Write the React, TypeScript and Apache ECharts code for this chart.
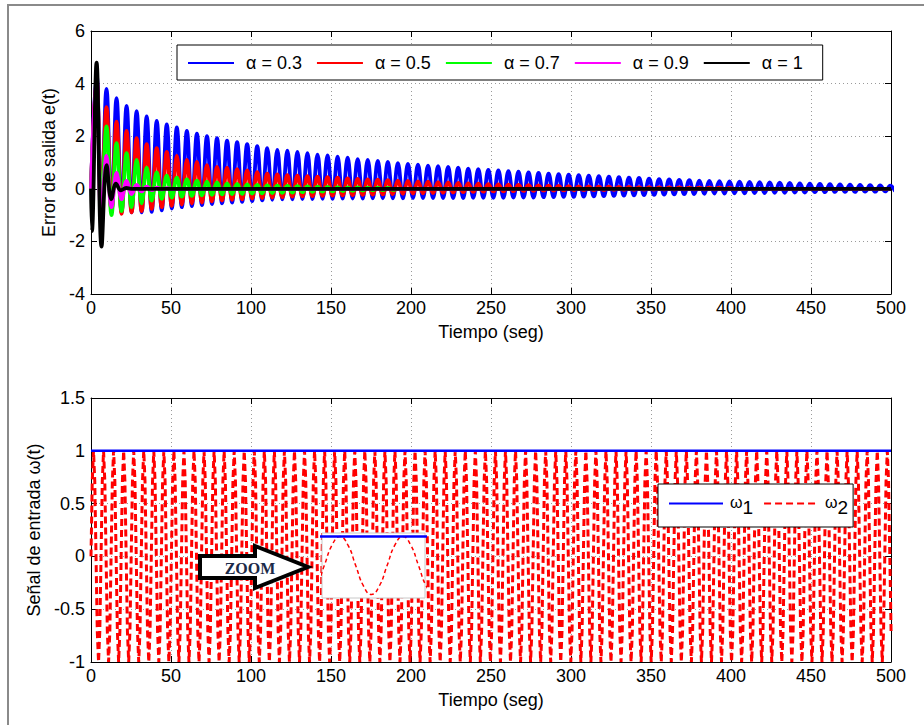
import React, { useEffect, useRef } from "react";
import * as echarts from "echarts";

const FONT = '"Liberation Sans", Arial, Helvetica, sans-serif';

// ---------- data ----------
const alphaNames = ["α = 0.3", "α = 0.5", "α = 0.7", "α = 0.9", "α = 1"];
const alphaColors = ["#0000ff", "#ff0000", "#00ff00", "#ff00ff", "#000000"];

// oscillation timing of e(t) (peaks repeat with the same period)
const PEAK_T0 = 3.4;
const PERIOD = 6.28;

// peak / trough values of each cycle
const bluePeaks = [
  4.4, 3.8, 3.45, 3.15, 2.95, 2.75, 2.58, 2.45, 2.33, 2.2,
  2.1, 2.0, 1.93, 1.83, 1.77, 1.7, 1.62, 1.55, 1.48, 1.45,
  1.4, 1.36, 1.3, 1.27, 1.22, 1.18, 1.13, 1.1, 1.06, 1.02,
  0.98, 0.95, 0.92, 0.88, 0.86, 0.83, 0.8, 0.77, 0.75, 0.72,
  0.7, 0.67, 0.65, 0.62, 0.6, 0.58, 0.56, 0.54, 0.52, 0.5,
  0.48, 0.46, 0.44, 0.42, 0.41, 0.39, 0.37, 0.36, 0.34, 0.33,
  0.31, 0.3, 0.29, 0.28, 0.27, 0.26, 0.25, 0.24, 0.23, 0.22,
  0.21, 0.2, 0.19, 0.18, 0.17, 0.16, 0.15, 0.14, 0.13, 0.12,
];
const blueTroughs = [
  -0.7, -0.85, -0.9, -0.9, -0.9, -0.88, -0.82, -0.75, -0.7, -0.66,
  -0.62, -0.58, -0.55, -0.52, -0.5, -0.47, -0.44, -0.42, -0.4, -0.4,
  -0.39, -0.39, -0.38, -0.38, -0.37, -0.37, -0.37, -0.36, -0.36, -0.36,
  -0.36, -0.35, -0.35, -0.35, -0.35, -0.35, -0.35, -0.34, -0.34, -0.34,
  -0.34, -0.33, -0.33, -0.33, -0.32, -0.32, -0.31, -0.31, -0.3, -0.29,
  -0.28, -0.27, -0.26, -0.25, -0.24, -0.23, -0.22, -0.21, -0.2, -0.2,
  -0.19, -0.18, -0.18, -0.17, -0.17, -0.16, -0.16, -0.15, -0.15, -0.14,
  -0.14, -0.13, -0.13, -0.12, -0.12, -0.12, -0.11, -0.11, -0.1, -0.1,
];
const redPeaks = [
  4.2, 3.1, 2.55, 2.2, 1.93, 1.7, 1.55, 1.4, 1.25, 1.1,
  1.02, 0.9, 0.83, 0.8, 0.75, 0.7, 0.63, 0.58, 0.55, 0.52,
  0.5, 0.48, 0.46, 0.44, 0.42, 0.4, 0.38, 0.36, 0.35, 0.33,
  0.31, 0.3, 0.28, 0.27, 0.25, 0.24, 0.22, 0.21, 0.2, 0.18,
  0.17, 0.16, 0.15, 0.14, 0.13, 0.12, 0.11, 0.1, 0.09, 0.09,
  0.08, 0.08, 0.07, 0.07, 0.06, 0.06, 0.05, 0.05, 0.05, 0.04,
  0.04, 0.04, 0.04, 0.03,
];
const redTroughs = [
  -0.5, -0.85, -0.95, -0.9, -0.85, -0.76, -0.7, -0.65, -0.6, -0.56,
  -0.52, -0.48, -0.45, -0.42, -0.4, -0.37, -0.35, -0.33, -0.32, -0.3,
  -0.29, -0.28, -0.27, -0.26, -0.25, -0.24, -0.23, -0.22, -0.21, -0.2,
  -0.19, -0.18, -0.17, -0.16, -0.15, -0.14, -0.13, -0.12, -0.11, -0.1,
  -0.1, -0.09, -0.08, -0.08, -0.07, -0.07, -0.06, -0.06, -0.05, -0.05,
  -0.05, -0.04, -0.04, -0.04, -0.03, -0.03, -0.03, -0.03, -0.02, -0.02,
  -0.02, -0.02, -0.02, -0.01,
];
const greenPeaks = [
  3.8, 2.37, 1.74, 1.36, 1.1, 0.8, 0.62, 0.5, 0.42, 0.36,
  0.31, 0.27, 0.24, 0.21, 0.19, 0.17, 0.15, 0.13, 0.12, 0.11,
  0.1, 0.09, 0.08, 0.07, 0.06, 0.05, 0.05, 0.04, 0.04, 0.03,
];
const greenTroughs = [
  -0.6, -1.0, -0.85, -0.7, -0.55, -0.45, -0.38, -0.33, -0.3, -0.27,
  -0.25, -0.23, -0.21, -0.2, -0.19, -0.18, -0.17, -0.16, -0.15, -0.14,
  -0.13, -0.12, -0.11, -0.1, -0.09, -0.08, -0.07, -0.06, -0.05, -0.04,
];
const magentaPeaks = [4.3, 1.25, 0.6, 0.3, 0.15, 0.08, 0.04, 0.02];
const magentaTroughs = [-1.3, -0.7, -0.4, -0.2, -0.1, -0.05, -0.02, -0.01];

// α = 1 transient (time, value)
const blackT = [0, 0.6, 3.5, 6.6, 9.8, 12.7, 15.6, 18.7, 22, 25, 500];
const blackV = [0, -1.6, 4.8, -2.2, 0.9, -0.4, 0.2, -0.06, 0.03, 0, 0];

// input signals
const omegaNames = ["ω1", "ω2"];
const w1Level = 1;
const W2_PERIOD = 6.28;
const w2Shape = [0, 0.71, 1, 0.71, 0, -0.71, -1, -0.71]; // one period, as seen in the zoom inset
const T_END = 500;

// ---------- helpers building series data ----------
function buildOsc(peaks: number[], troughs: number[]) {
  const pts: number[][] = [[0, 0]];
  for (let k = 0; k < peaks.length; k++) {
    pts.push([+(PEAK_T0 + k * PERIOD).toFixed(3), peaks[k]]);
    if (k < troughs.length) pts.push([+(PEAK_T0 + (k + 0.5) * PERIOD).toFixed(3), troughs[k]]);
  }
  const last = pts[pts.length - 1][0];
  if (last < T_END) {
    pts.push([+(last + PERIOD / 2).toFixed(3), 0]);
    pts.push([T_END, 0]);
  }
  return pts;
}
function buildW2() {
  const pts: number[][] = [];
  const step = W2_PERIOD / w2Shape.length;
  for (let k = 0; k * step <= T_END + step; k++) {
    pts.push([+(k * step).toFixed(4), w2Shape[k % w2Shape.length]]);
  }
  return pts;
}

const topData = [
  buildOsc(bluePeaks, blueTroughs),
  buildOsc(redPeaks, redTroughs),
  buildOsc(greenPeaks, greenTroughs),
  buildOsc(magentaPeaks, magentaTroughs),
  blackT.map((t, i) => [t, blackV[i]]),
];
const w2Data = buildW2();
const w1Data = [[0, w1Level], [T_END, w1Level]];

// ---------- axis helpers ----------
const AX = { color: "#000", width: 1 };
const GRIDLINE = { color: "#9a9a9a", type: [1, 3] as any, width: 1 };
const labelStyle = { color: "#000", fontSize: 18, fontFamily: FONT };

function xAxesFor(gridIndex: number) {
  return [
    {
      type: "value", gridIndex, min: 0, max: 500, interval: 50, position: "bottom",
      axisLine: { show: true, onZero: false, lineStyle: AX },
      axisTick: { show: true, inside: true, length: 6, lineStyle: AX },
      axisLabel: { ...labelStyle, margin: 5 },
      splitLine: { show: true, lineStyle: GRIDLINE },
      name: "Tiempo (seg)", nameLocation: "middle", nameGap: 29,
      nameTextStyle: { ...labelStyle },
    },
    {
      type: "value", gridIndex, min: 0, max: 500, interval: 50, position: "top",
      axisLine: { show: true, onZero: false, lineStyle: AX },
      axisTick: { show: true, inside: true, length: 6, lineStyle: AX },
      axisLabel: { show: false },
      splitLine: { show: false },
    },
  ];
}
function yAxesFor(gridIndex: number, min: number, max: number, interval: number, name: string, nameGap: number) {
  return [
    {
      type: "value", gridIndex, min, max, interval, position: "left",
      axisLine: { show: true, onZero: false, lineStyle: AX },
      axisTick: { show: true, inside: true, length: 6, lineStyle: AX },
      axisLabel: { ...labelStyle, margin: 6 },
      splitLine: { show: true, lineStyle: GRIDLINE },
      name, nameLocation: "middle", nameGap, nameRotate: 90,
      nameTextStyle: { ...labelStyle },
    },
    {
      type: "value", gridIndex, min, max, interval, position: "right",
      axisLine: { show: true, onZero: false, lineStyle: AX },
      axisTick: { show: true, inside: true, length: 6, lineStyle: AX },
      axisLabel: { show: false },
      splitLine: { show: false },
    },
  ];
}

const hiddenSymbol = { color: "rgba(0,0,0,0)", borderWidth: 0, opacity: 0 };

export default function App() {
  const ref = useRef<HTMLDivElement>(null);
  useEffect(() => {
    if (!ref.current) return;
    const chart = echarts.init(ref.current, null, { renderer: "svg" });

    const topSeries = alphaNames.map((name, i) => ({
      name, type: "line", xAxisIndex: 0, yAxisIndex: 0,
      data: topData[i], symbol: "none", showSymbol: false, smooth: 0.4,
      lineStyle: { color: alphaColors[i], width: 3.8 },
      itemStyle: { color: alphaColors[i] },
      z: 2 + i * 0.01,
    }));

    const option: any = {
      animation: false,
      backgroundColor: "#fff",
      textStyle: { fontFamily: FONT },
      grid: [
        { left: 91, top: 31, width: 800, height: 263, show: false },
        { left: 91, top: 398, width: 800, height: 264, show: false },
        { left: 322, top: 533, width: 103, height: 65, show: false, z: 20 },
      ],
      xAxis: [
        ...xAxesFor(0),
        ...xAxesFor(1),
        { type: "value", gridIndex: 2, min: 6.05, max: 16.35, show: false, z: 20 },
      ],
      yAxis: [
        ...yAxesFor(0, -4, 6, 2, "Error de salida e(t)", 20),
        ...yAxesFor(1, -1, 1.5, 0.5, "Señal de entrada ω(t)", 35),
        { type: "value", gridIndex: 2, min: -1.12, max: 1.12, show: false, z: 20 },
      ],
      legend: [
        {
          data: alphaNames, left: 177, top: 45, orient: "horizontal",
          itemWidth: 46, itemHeight: 12, itemGap: 14,
          padding: [9, 20, 8, 10],
          borderColor: "#000", borderWidth: 1, backgroundColor: "#fff",
          lineStyle: { width: 2 },
          itemStyle: hiddenSymbol,
          formatter: (n: string) => `{t|${n}}`,
          textStyle: {
            color: "#000", fontSize: 18, fontFamily: FONT,
            rich: { t: { fontSize: 18, fontFamily: FONT, color: "#000", padding: [0, 0, 0, 7] } },
          },
          selectedMode: false, z: 30,
        },
        {
          data: omegaNames, left: 658, top: 484, orient: "horizontal",
          itemWidth: 54, itemHeight: 12, itemGap: 10,
          padding: [10, 5, 10, 10],
          borderColor: "#000", borderWidth: 1, backgroundColor: "#fff",
          lineStyle: { width: 2 },
          itemStyle: hiddenSymbol,
          formatter: (n: string) => `{w|${n.charAt(0)}}{s|${n.slice(1)}}`,
          textStyle: {
            color: "#000", fontSize: 18, fontFamily: FONT,
            rich: {
              w: { fontSize: 16, fontFamily: FONT, color: "#000", padding: [0, 0, 7, 2], verticalAlign: "bottom" },
              s: { fontSize: 19, fontFamily: FONT, color: "#000", padding: [8, 0, 0, 0], verticalAlign: "bottom" },
            },
          },
          selectedMode: false, z: 30,
        },
      ],
      graphic: [
        {
          type: "rect", z: -10, silent: true,
          shape: { x: 8, y: 5, width: 1000, height: 1000 },
          style: { fill: "none", stroke: "#8a8a8a", lineWidth: 2 },
        },
        {
          type: "rect", z: 15, silent: true,
          shape: { x: 322, y: 533, width: 103, height: 65 },
          style: { fill: "#fff", stroke: "#c8c8c8", lineWidth: 1 },
        },
        {
          type: "polygon", z: 16, silent: true,
          shape: { points: [[200, 556], [255, 556], [255, 546], [308, 567], [255, 588], [255, 578], [200, 578]] },
          style: { fill: "#fff", stroke: "#000", lineWidth: 4, lineJoin: "miter" },
        },
        {
          type: "text", z: 17, silent: true, x: 250, y: 568,
          style: {
            text: "ZOOM", fill: "#1b2a48", font: 'bold 16px "Liberation Serif", "Times New Roman", serif',
            align: "center", verticalAlign: "middle",
          },
        },
      ],
      series: [
        ...topSeries,
        {
          name: "ω2", type: "line", xAxisIndex: 2, yAxisIndex: 2, data: w2Data,
          symbol: "none", showSymbol: false,
          lineStyle: { color: "#ff0000", width: 3, type: [7, 4] },
          itemStyle: { color: "#ff0000" }, z: 2,
        },
        {
          name: "ω1", type: "line", xAxisIndex: 2, yAxisIndex: 2, data: w1Data,
          symbol: "none", showSymbol: false,
          lineStyle: { color: "#0000ff", width: 2.5 },
          itemStyle: { color: "#0000ff" }, z: 3,
        },
        // zoom inset
        {
          name: "inset ω2", type: "line", xAxisIndex: 4, yAxisIndex: 4, data: w2Data,
          symbol: "none", showSymbol: false, smooth: 0.5, z: 21,
          lineStyle: { color: "#ff0000", width: 1.5, type: [4, 3] },
          markLine: {
            silent: true, symbol: "none", label: { show: false },
            lineStyle: { color: "#777", type: [1, 3], width: 1 },
            data: [{ yAxis: 0 }],
          },
        },
        {
          name: "inset ω1", type: "line", xAxisIndex: 4, yAxisIndex: 4, data: w1Data,
          symbol: "none", showSymbol: false, z: 22,
          lineStyle: { color: "#0000ff", width: 2.5 },
        },
      ],
    };
    chart.setOption(option);
    return () => chart.dispose();
  }, []);
  return <div ref={ref} style={{ position: "absolute", left: 0, top: 0, width: 924, height: 725 }} />;
}
